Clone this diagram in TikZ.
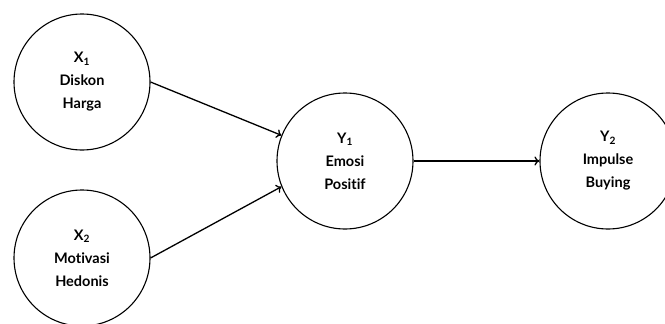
\documentclass[tikz,border=0pt]{standalone}
\usepackage{fontspec}
\setmainfont{Lato}[Ligatures=NoCommon,BoldFont={Lato Bold}]
\usetikzlibrary{arrows.meta}

\begin{document}
\begin{tikzpicture}[x=1pt,y=-1pt,
  var/.style={draw,circle,line width=1.1pt,minimum size=136pt,inner sep=0pt,
    align=center,font=\bfseries\fontsize{14.5}{23}\selectfont},
  link/.style={line width=1.3pt,-{To[length=5pt,width=9pt]}}]
\useasboundingbox (0,0) rectangle (665,324);
% exogenous
\node[var] (x1) at (82,82)  {X\textsubscript{1}\\Diskon\\Harga};
\node[var] (x2) at (82,258) {X\textsubscript{2}\\Motivasi\\Hedonis};
% mediator and outcome
\node[var] (y1) at (345,161) {Y\textsubscript{1}\\Emosi\\Positif};
\node[var] (y2) at (608,161) {Y\textsubscript{2}\\Impulse\\Buying};
% paths
\draw[link] (x1.east) -- (y1.158);
\draw[link] (x2.east) -- (y1.202);
\draw[link] (y1.east) -- (y2.west);
\end{tikzpicture}
\end{document}
